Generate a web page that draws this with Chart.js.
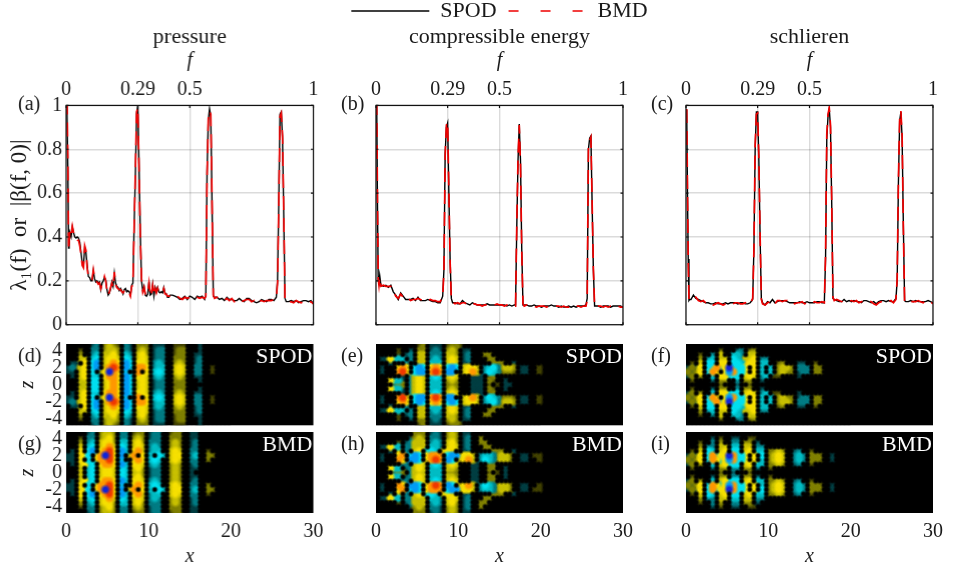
<!DOCTYPE html>
<html><head><meta charset="utf-8">
<script src="https://cdn.jsdelivr.net/npm/chart.js@4"></script>
<style>html,body{margin:0;background:#fff;overflow:hidden;width:953px;height:571px}canvas{position:absolute}</style>
</head><body>
<script>
const titles=["pressure","compressible energy","schlieren"];
const topTicks=[0,0.29,0.5,1];
const yTicks=[0,0.2,0.4,0.6,0.8,1];
const zTicks=[-4,-2,0,2,4];
const xTicks=[0,10,20,30];
const freqA=[0,.002,.004,.007,.01,.012,
.015,.02,.025,.03,.035,.04,.045,.05,.055,.06,
.065,.07,.075,.08,.085,.09,.095,.10,.105,.11,
.115,.12,.125,.13,.135,.14,.145,.15,.155,.16,
.165,.17,.175,.18,.185,.19,.195,.20,.205,.21,
.215,.22,.225,.23,.235,.24,.245,.25,.255,.26,
.265,.27,.275,.28,.285,.29,.295,.30,.305,.31,
.315,.32,.325,.33,.335,.34,.345,.35,.355,.36,
.365,.37,.375,.38,.385,.39,.395,.40,.405,.41,
.415,.42,
.43,.44,.45,.46,.47,.48,.49,.50,.51,.52,
.53,.54,.55,.56,
.565,.57,.575,.58,.585,.59,.595,
.60,.61,.62,.63,.64,.65,.66,.67,.68,.69,
.70,.71,.72,.73,.74,.75,.76,.77,.78,.79,
.80,.81,.82,.83,.84,.85,
.855,.86,.865,.87,.875,.88,.885,
.89,.90,.91,.92,.93,.94,.95,.96,.97,.98,.99,1];
const spodA=[.98,1,1,.7,.35,.36,
.42,.40,.445,.42,.40,.395,.40,.395,.375,.33,
.28,.27,.35,.33,.27,.22,.215,.20,.20,.245,
.21,.195,.20,.19,.195,.16,.19,.20,.215,.205,
.16,.135,.145,.165,.195,.175,.235,.19,.175,.17,
.155,.165,.155,.14,.16,.165,.15,.155,.15,.135,
.18,.19,.45,.68,.96,1,.72,.42,.2,.155,
.175,.135,.13,.14,.195,.135,.14,.185,.13,.17,
.15,.17,.15,.145,.15,.145,.17,.145,.14,.125,
.125,.135,
.135,.13,.125,.115,.12,.13,.115,.13,.125,.115,
.13,.125,.13,.115,
.135,.7,.93,.985,.95,.55,.13,
.125,.125,.115,.12,.11,.125,.115,.115,.11,.11,
.12,.11,.105,.12,.12,.11,.105,.1,.105,.115,
.11,.105,.115,.115,.11,.125,
.2,.55,.96,.97,.85,.5,.12,
.105,.105,.11,.105,.11,.1,.105,.11,.11,.105,.11,.095];
const bmdA=[.98,1,1,.75,.34,.37,
.43,.41,.45,.42,.40,.39,.385,.385,.36,.32,
.27,.26,.36,.34,.26,.215,.21,.205,.205,.25,
.215,.2,.195,.185,.19,.165,.185,.195,.22,.2,
.155,.135,.15,.17,.19,.17,.24,.185,.17,.165,
.16,.16,.15,.145,.155,.16,.15,.15,.145,.13,
.175,.18,.44,.7,.97,.99,.7,.4,.21,.15,
.17,.14,.135,.145,.19,.13,.145,.18,.135,.165,
.145,.165,.145,.15,.15,.15,.165,.14,.14,.13,
.13,.13,
.13,.135,.13,.12,.115,.125,.12,.125,.12,.12,
.125,.12,.125,.12,
.13,.68,.94,.975,.96,.56,.135,
.12,.125,.12,.115,.11,.12,.11,.12,.105,.11,
.115,.105,.11,.115,.115,.105,.11,.095,.105,.11,
.105,.11,.11,.11,.115,.12,
.19,.54,.95,.965,.86,.51,.115,
.11,.1,.105,.1,.11,.105,.1,.105,.105,.1,.105,.095];
const freqBC=[0,.003,.006,.009,.012,.015,.02,
.03,.04,.05,.06,.07,.08,.09,.10,.11,.12,
.13,.14,.15,.16,.17,.18,.19,.20,.21,.22,
.23,.24,.25,.26,.27,
.275,.28,.285,.29,.295,.30,.305,
.31,.32,.33,.34,.35,.36,.37,.38,.39,.40,
.41,.42,.43,.44,.45,.46,.47,.48,.49,.50,
.51,.52,.53,.54,.55,.56,
.565,.57,.575,.58,.585,.59,.595,
.60,.61,.62,.63,.64,.65,.66,.67,.68,.69,
.70,.71,.72,.73,.74,.75,.76,.77,.78,.79,
.80,.81,.82,.83,.84,.85,
.855,.86,.865,.87,.875,.88,.885,
.89,.90,.91,.92,.93,.94,.95,.96,.97,.98,.99,1];
const spodB=[.98,1,.55,.2,.19,.225,.18,
.175,.18,.17,.18,.15,.135,.115,.145,.13,.115,
.115,.115,.12,.11,.125,.11,.11,.11,.115,.11,
.105,.105,.1,.1,.13,
.25,.78,.9,.92,.6,.3,.12,
.1,.1,.095,.095,.11,.1,.095,.09,.1,.095,
.09,.09,.09,.09,.095,.09,.09,.09,.09,.09,
.09,.09,.085,.09,.085,.09,
.09,.45,.75,.915,.75,.35,.09,
.09,.09,.085,.085,.09,.085,.085,.08,.085,.085,
.085,.09,.085,.085,.08,.085,.08,.08,.085,.08,
.085,.08,.085,.085,.085,.09,
.12,.8,.85,.86,.55,.25,.085,
.085,.085,.08,.085,.085,.085,.08,.085,.085,.085,.085,.08];
const bmdB=[.98,1,.56,.21,.18,.215,.175,
.18,.175,.175,.175,.155,.13,.12,.14,.125,.115,
.12,.11,.115,.115,.12,.115,.11,.115,.11,.115,
.11,.11,.105,.105,.13,
.24,.77,.91,.925,.61,.29,.115,
.105,.095,.1,.095,.1,.1,.09,.095,.095,.095,
.09,.09,.085,.09,.09,.09,.09,.09,.095,.09,
.09,.085,.09,.085,.09,.085,
.085,.46,.76,.91,.73,.34,.095,
.085,.09,.09,.085,.085,.08,.085,.085,.085,.08,
.085,.085,.085,.085,.085,.08,.085,.08,.08,.085,
.08,.085,.085,.08,.085,.085,
.11,.81,.84,.855,.56,.26,.085,
.08,.085,.085,.08,.085,.08,.085,.085,.08,.085,.08,.08];
const spodC=[.98,.97,.6,.3,.11,.115,.115,
.135,.12,.115,.11,.105,.1,.1,.095,.095,.1,
.095,.095,.095,.1,.095,.1,.1,.1,.095,.1,
.1,.095,.095,.1,.115,
.35,.8,.97,.97,.75,.4,.12,
.1,.09,.105,.1,.115,.1,.105,.11,.11,.11,
.105,.1,.1,.1,.1,.105,.1,.1,.105,.1,
.1,.1,.105,.105,.1,.1,
.3,.85,.95,.985,.9,.55,.12,
.115,.11,.105,.105,.115,.105,.11,.105,.11,.105,
.105,.1,.11,.11,.105,.1,.105,.095,.105,.11,
.11,.105,.11,.105,.105,.12,
.2,.65,.93,.97,.85,.45,.11,
.105,.105,.11,.105,.11,.105,.105,.105,.105,.11,.105,.1];
const bmdC=[.98,.98,.62,.29,.115,.12,.12,
.13,.125,.11,.105,.11,.1,.095,.1,.09,.095,
.1,.095,.09,.095,.1,.095,.095,.1,.1,.095,
.095,.1,.09,.095,.12,
.34,.82,.96,.965,.76,.41,.115,
.095,.09,.1,.105,.11,.095,.11,.11,.105,.11,
.11,.1,.105,.095,.1,.1,.105,.095,.1,.1,
.095,.105,.1,.1,.105,.1,
.32,.87,.96,.99,.91,.56,.125,
.11,.115,.11,.105,.11,.105,.105,.11,.105,.11,
.1,.105,.105,.105,.11,.105,.095,.09,.1,.105,
.11,.11,.105,.11,.1,.115,
.21,.66,.94,.975,.86,.44,.105,
.105,.1,.105,.105,.105,.11,.105,.1,.11,.105,.105,.095];

// Field levels, half-domain rows z = 4.5 ... 0, columns dx = 0.5
// digits: positive lobes, letters: negative lobes, dot: zero
const fieldD=[
"... ... ab. 2321 .ba . 222 . aaa. . 111. . .a. . . ....",
"... 1.. bb. 2332 .ba . 232 . abb. . 122. . .a. . . ....",
"... 2.. bc. 3342 .cb . 342 . abb. . 122. . aa. . . ....",
"... 33. cd. 3443 .dc . 343 . abb. . 222. . ab. . . ....",
".aa .4. de. 3454 .ed . 443 . bcb. . 232. . ab. . . ....",
"aba 34. de. 3565 .ed . 554 . bcc. . 343. . bb. . 1 ....",
"aa. 34. d.2 4f54 .d. . 5.4 . cdc. . 343. . bb. . 1 ....",
".a. 34. cc. 4554 .ed . 443 . bcb. . 232. . aa. . . ....",
"... 33. dd. 3454 .ed . 343 . abb. . 222. . .a. . . ....",
"... 23. dd. 3454 .ed . 343 . abb. . 122. . ... . . ...."];
const fieldG=[
"... .. ab. 2332 .bb. 122. abb. .122. .aa. . .. ....",
"... 1. bb. 2342 .bb. 232. abb. .222. .aa. . .. ....",
"... 2. bc. 3442 .cc. 342. bbb. .232. .ab. . .. ....",
"... 3. cd. 3453 .dc. 343. bcb. .232. .ab. . .. ....",
".a. 4. de. 4564 .ec. 453. bcc. .343. .bb. . 1. ....",
"aa. 44 d.4 5f64 .e.3 5.4. c.dc .344. .bc. . 22 ....",
"aa. 4. d.4 5564 .d.. 454. cdc. .343. .bb. . 2. ....",
".a. 34 cd. 4554 .ec. 443. bcb. .232. .ab. . .. ....",
"... 3. cd. 3443 .dc. 342. abb. .232. .aa. . .. ....",
"... 3. cd. 3443 .dc. 332. abb. .232. .a.. . .. ...."];
const fieldE=[
"..... ..... 12.aa a.122 1.... ..... ..... .....",
"..... 1..a. 22.ab a.232 .aa.. ..... ..... .....",
"..... 1.ab. 33.bb b.332 .ab.. .22.. ..... .....",
".aa4c cc.b. 33.bc b.343 .ab.. ..22. ..... .....",
"...a. ..b.. 33.cc c.343 .aa.. ...22 2..a. .....",
".a... 454.d ed.45 4.ded .3443 .bcdb 2332. aa..1",
".a... 564.d ee.56 5.ee. .3453 .bdcb 1221. aa..1",
"..... .a.b3 43.cd c.343 ...aa a.12. ..... .....",
"...4c ca.b3 43.cc c.232 ...aa a.21. .a... .....",
"....1 22.b3 43.cc c.222 ...aa a.1.1 .aa.. ....."];
const fieldH=[
"..... ....2 22.ab a.232 .aa.. ..... ..... .....",
"..... ...a2 32.bb a.232 .ab.. 2.... ..... .....",
"..... 1.ab3 33.bc b.342 .ab.. 22... ..... .....",
".aa4c c.bb3 33.cc b.343 .ab.. .22.. ..... .....",
"...a. 3.b.3 4.cdc .343. .aa.. ...22 2..a. .....",
".a... 45.de d.455 5.dee 3443. bccb2 332.. aa.11",
".a... 54.ee d.456 5.ed. 3453. bdcb2 332.. aa..1",
"..... .ab.3 43.cd c.343 ...aa ..22. ..... .....",
"...4c c.ab3 43.cc c.332 ...aa ..22. .a... .....",
"....1 22.b3 33.cc c.222 ...aa ..1.1 .a... ....."];
const fieldF=[
"..... ..... ..... ..... ..... ..... ..... .....",
"..... ...1. ..ab. 12... ..... ..... ..... .....",
"...1. .b.3. .ccb. 33... ..... ..... ..... .....",
"...2. bc.33 .dcb3 34.bb ..... ..... ..... .....",
".1.3. dd.44 .ddc3 44.cc ..12. ..aa. .1... .....",
"a2a4. d45c4 f4dd4 .4.c. c.233 2.bbb .22.. .....",
"2a24. d54.4 e5dd4 .4.c. c.232 2.abb .22.. .....",
"a2.2. .c.44 cdd.3 43.bc .11.. ..a.. ..... .....",
".1... .a.22 ..b.2 2..a. ..... ..... ..... .....",
"..... ...1. ..a.. 1.... ..... ..... ..... ....."];
const fieldI=[
"..... ..... ..... ..... ..... ..... ..... .....",
"..... .a.1. .aa.. 11... ..... ..... ..... .....",
"...1. .b.2. .bb.2 2.a.. ..... ..... ..... .....",
"...2. bb.33 .cc.3 3.bb. ..... ..... ..... .....",
".1.3. dc.34 .dd.3 4.cc. 2232. .ab.. 1.... .....",
"a2a4. d5c44 f5dd4 .4.d. 2343. .bcb. 222.. a....",
"2a24. d54c4 e5dd4 .4.c. 2343. .bcb. 222.. a....",
"a2.2. .c.34 cdd.3 4.cc. 2232. .ab.. 1.... .....",
".1... .a.22 .bb.2 2.a.. 1.... ..... ..... .....",
"..... ...1. .a... 1.... ..... ..... ..... ....."];

const FONT='"Liberation Serif", serif', INK='#1a1a1a', FS=20;
const palette={'.':'#000000',a:'#003e42',b:'#007c84',c:'#00bcc4',d:'#00e0f0',e:'#009cf5',f:'#1024d8',
 1:'#424200',2:'#808000',3:'#c8c000',4:'#f6e000',5:'#ff9800',6:'#f03800'};
const levelOrder='1a2b3c4d5e6f.';
const sprites={};
for(const k in palette){
  const size=k==='.'?7:11;
  const s=document.createElement('canvas');s.width=s.height=size;
  const g=s.getContext('2d');
  const r=parseInt(palette[k].slice(1,3),16),gg=parseInt(palette[k].slice(3,5),16),b=parseInt(palette[k].slice(5,7),16);
  const h=size/2;
  const grad=g.createRadialGradient(h,h,0,h,h,h-.1);
  grad.addColorStop(0,`rgba(${r},${gg},${b},1)`);
  grad.addColorStop(.38,`rgba(${r},${gg},${b},1)`);
  grad.addColorStop(1,`rgba(${r},${gg},${b},0)`);
  g.fillStyle=grad;g.fillRect(0,0,size,size);
  sprites[k]=s;
}
function cells(rows){
  const out=[];
  rows.forEach((row,r)=>{
    const clean=row.replace(/ /g,'').padEnd(40,'.');
    const z=4.5-0.5*r;
    for(let c=0;c<40;c++){
      const k=clean[c],x=0.25+0.5*c;
      out.push({x,y:z,k});
      if(z!==0)out.push({x,y:-z,k});
    }
  });
  out.sort((p,q)=>levelOrder.indexOf(p.k)-levelOrder.indexOf(q.k));
  return out;
}
function decor(o){return {id:'decor',
  beforeDatasetsDraw(ch){ if(o.black){const a=ch.chartArea,c=ch.ctx;c.save();c.fillStyle='#000';c.fillRect(a.left,a.top,a.right-a.left,a.bottom-a.top);c.restore();}},
  afterDatasetsDraw(ch){
    const a=ch.chartArea,c=ch.ctx;c.save();
    if(o.frame){
      c.strokeStyle='#111';c.lineWidth=1.2;c.strokeRect(a.left,a.top,a.right-a.left,a.bottom-a.top);
      c.beginPath();
      ch.scales.x.ticks.forEach(t=>{const p=ch.scales.x.getPixelForValue(t.value);c.moveTo(p,a.top);c.lineTo(p,a.top+2.5);c.moveTo(p,a.bottom);c.lineTo(p,a.bottom-2.5);});
      ch.scales.y.ticks.forEach(t=>{const p=ch.scales.y.getPixelForValue(t.value);c.moveTo(a.left,p);c.lineTo(a.left+2.5,p);c.moveTo(a.right,p);c.lineTo(a.right-2.5,p);});
      c.stroke();
    }
    c.font=`${FS}px ${FONT}`;c.textBaseline='middle';
    c.fillStyle=INK;c.textAlign='left';c.fillText(o.label,a.left+o.lx,a.top+o.ly);
    if(o.tag){c.font=`22px ${FONT}`;c.fillStyle='#fff';c.textAlign='right';c.fillText(o.tag,a.right-1,a.top+13);}
    c.restore();
  }};}
function fit(ch,L,T,R,B){
  let a=ch.chartArea;
  ch.resize(ch.width+(R-L)-(a.right-a.left),ch.height+(B-T)-(a.bottom-a.top));
  ch.update('none');
  a=ch.chartArea;
  ch.canvas.style.left=(L-a.left)+'px';
  ch.canvas.style.top=(T-a.top)+'px';
}
function mk(w,h){const c=document.createElement('canvas');c.width=w;c.height=h;document.body.appendChild(c);return c;}
const fontN={family:FONT,size:FS,weight:'normal'};
const fontT={family:FONT,size:22,weight:'normal'};
const fontI={family:FONT,size:FS,weight:'normal',style:'italic',lineHeight:1};
const GRID='rgba(0,0,0,0.14)';
function lineChart(label,lx,title,freq,sp,bm,showY,legend){
  const zip=(ys)=>ys.map((y,i)=>({x:freq[i],y}));
  const scales={
     x:{type:'linear',position:'top',min:0,max:1,
      afterBuildTicks(s){s.ticks=topTicks.map(value=>({value}));},
      grid:{color:GRID,lineWidth:1.4,drawTicks:false},border:{display:false},
      ticks:{font:fontN,color:INK,padding:4,maxRotation:0,autoSkip:false,callback:v=>String(v)},
      title:{display:true,text:'f',font:fontI,color:INK,padding:{top:0,bottom:3}}},
     y:{min:0,max:1,afterBuildTicks(s){s.ticks=yTicks.map(value=>({value}));},
      afterFit(s){s.width=60;},
      grid:{color:GRID,lineWidth:1.4,drawTicks:false},border:{display:false},
      ticks:{display:showY,font:fontN,color:INK,padding:4,autoSkip:false,callback:v=>String(v)},
      title:{display:showY,text:'λ₁(f)  or  |β(f, 0)|',font:{family:FONT,size:23,weight:'normal'},color:INK,padding:{top:0,bottom:0}}}
  };
  if(legend)scales.yRight={position:'right',min:0,max:1,display:true,afterFit(s){s.width=60;},
      grid:{drawOnChartArea:false,drawTicks:false},border:{display:false},ticks:{display:false}};
  const cfg={type:'line',
   data:{datasets:[
    {label:'SPOD',data:zip(sp),borderColor:'#000',borderWidth:1.4,pointRadius:0,order:2,tension:0},
    {label:'BMD',data:zip(bm),borderColor:'#ee0000',borderWidth:1.7,borderDash:[14,8],pointRadius:0,order:1,tension:0}]},
   options:{responsive:false,maintainAspectRatio:false,animation:false,events:[],parsing:false,normalized:true,
    layout:{padding:{left:0,right:legend?0:60,top:0,bottom:2}},
    plugins:{tooltip:{enabled:false},
     title:{display:true,fullSize:false,text:title,font:fontT,color:INK,padding:{top:legend?-8:0,bottom:0}},
     legend:legend?{display:true,position:'top',weight:3000,
       labels:{usePointStyle:true,pointStyle:'line',pointStyleWidth:78,font:fontT,color:INK,padding:12,boxHeight:20,
        generateLabels(ch){return ch.data.datasets.map((d,i)=>({text:d.label,fontColor:INK,strokeStyle:d.borderColor,fillStyle:d.borderColor,lineWidth:1.3,lineDash:i?[10,22]:[],pointStyle:'line',datasetIndex:i}));}}}:{display:false}},
    scales},
   plugins:[decor({frame:true,label,lx,ly:-1})]};
  return new Chart(mk(500,300),cfg);
}
function heatChart(label,lx,tag,field,showZ,showX){
  const cfg={type:'scatter',
   data:{datasets:[{data:cells(field),pointRadius:3,pointBorderWidth:0,clip:0,
     pointStyle:c=>c.raw?sprites[c.raw.k]:'circle'}]},
   options:{responsive:false,maintainAspectRatio:false,animation:false,events:[],
    layout:{padding:{left:0,right:60,top:2,bottom:2}},
    plugins:{tooltip:{enabled:false},legend:{display:false},title:{display:false}},
    scales:{
     x:{type:'linear',position:'bottom',min:0,max:30,display:showX,
      afterBuildTicks(s){s.ticks=xTicks.map(value=>({value}));},
      grid:{display:false,drawTicks:false},border:{display:false},
      ticks:{font:fontN,color:INK,padding:7,maxRotation:0,autoSkip:false,callback:v=>String(v)},
      title:{display:true,text:'x',font:fontI,color:INK,padding:{top:-4,bottom:0}}},
     y:{min:-4.75,max:4.75,afterBuildTicks(s){s.ticks=zTicks.map(value=>({value}));},
      afterFit(s){s.width=60;},
      grid:{display:false,drawTicks:false},border:{display:false},
      ticks:{display:showZ,font:fontN,color:INK,padding:4,autoSkip:false,callback:v=>String(v)},
      title:{display:showZ,text:'z',font:fontI,color:INK,padding:{top:12,bottom:0}}}
    }},
   plugins:[decor({black:true,label,lx,ly:13,tag})]};
  return new Chart(mk(366,200),cfg);
}
const colsX=[[66,312.5],[376,623],[686,933]];
const rowLine=[105,324.3],rowHeat1=[344,425.3],rowHeat2=[432.3,513.3];
const charts=[
 [lineChart('(a)',-48,titles[0],freqA,spodA,bmdA,true,false),0,rowLine],
 [lineChart('(b)',-35,titles[1],freqBC,spodB,bmdB,false,true),1,rowLine],
 [lineChart('(c)',-35,titles[2],freqBC,spodC,bmdC,false,false),2,rowLine],
 [heatChart('(d)',-48,'SPOD',fieldD,true,false),0,rowHeat1],
 [heatChart('(e)',-35,'SPOD',fieldE,false,false),1,rowHeat1],
 [heatChart('(f)',-35,'SPOD',fieldF,false,false),2,rowHeat1],
 [heatChart('(g)',-48,'BMD',fieldG,true,true),0,rowHeat2],
 [heatChart('(h)',-35,'BMD',fieldH,false,true),1,rowHeat2],
 [heatChart('(i)',-35,'BMD',fieldI,false,true),2,rowHeat2]];
charts.forEach(([ch,c,r])=>fit(ch,colsX[c][0],r[0],colsX[c][1],r[1]));
</script>
</body></html>
